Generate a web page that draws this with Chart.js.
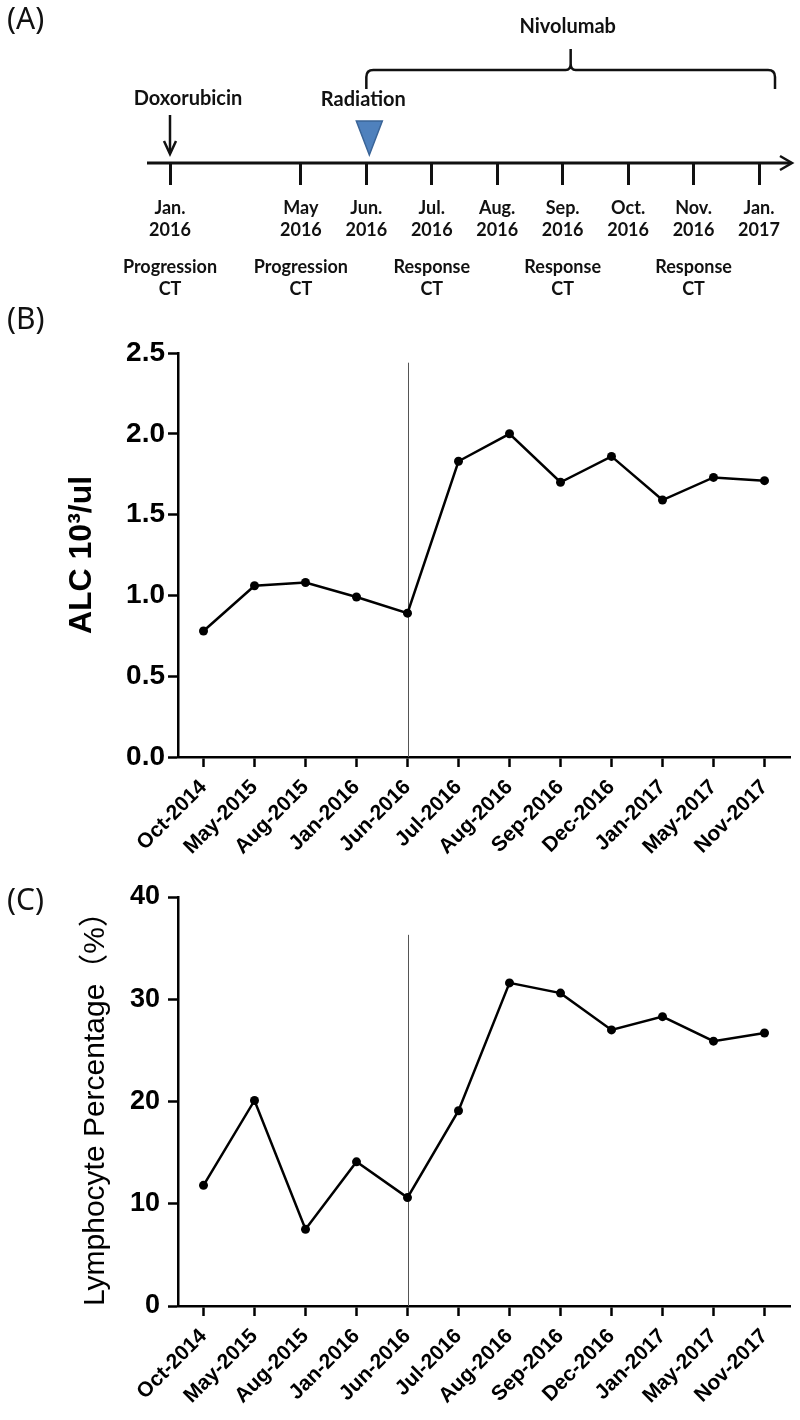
<!DOCTYPE html>
<html>
<head>
<meta charset="utf-8">
<script src="https://cdn.jsdelivr.net/npm/chart.js@4.4.1/dist/chart.umd.min.js"></script>
<style>
  html, body { margin: 0; padding: 0; background: #fff; }
  #page { position: relative; width: 800px; height: 1420px; overflow: hidden; }
  canvas { position: absolute; left: 0; }
  .tag { position: absolute; left: 7px; font: 30px "Noto Sans", sans-serif; color: #111; line-height: 1; }
</style>
</head>
<body>
<div id="page">
  <canvas id="timeline" width="800" height="310" style="top:0"></canvas>
  <canvas id="alc" width="800" height="560" style="top:300px"></canvas>
  <canvas id="lym" width="800" height="560" style="top:860px"></canvas>
  <div class="tag" style="top:3px">(A)</div>
  <div class="tag" style="top:303px">(B)</div>
  <div class="tag" style="top:884px">(C)</div>
</div>
<script>
// (A) 治療経過タイムライン
const timelineMonths = [['Jan.', '2016'], '', ['May', '2016'], ['Jun.', '2016'], ['Jul.', '2016'],
  ['Aug.', '2016'], ['Sep.', '2016'], ['Oct.', '2016'], ['Nov.', '2016'], ['Jan.', '2017']];
const ctScanSlots = [0, 2, 4, 6, 8];
const ctScanResults = ['Progression', 'Progression', 'Response', 'Response', 'Response'];
const doxorubicinSlot = 0;
const radiationSlot = 3;
const nivolumabSlots = [3, 9];

// (B)(C) 採血データ
const visitDates = ['Oct-2014', 'May-2015', 'Aug-2015', 'Jan-2016', 'Jun-2016', 'Jul-2016',
  'Aug-2016', 'Sep-2016', 'Dec-2016', 'Jan-2017', 'May-2017', 'Nov-2017'];
const alcValues = [0.78, 1.06, 1.08, 0.99, 0.89, 1.83, 2.00, 1.70, 1.86, 1.59, 1.73, 1.71];
const lymphPercent = [11.8, 20.1, 7.5, 14.1, 10.6, 19.1, 31.6, 30.6, 27.0, 28.3, 25.9, 26.7];
const alcTicks = [0, 0.5, 1.0, 1.5, 2.0, 2.5];
const lymphTicks = [0, 10, 20, 30, 40];
const radiationVisit = 'Jun-2016';

Chart.defaults.font.family = '"Liberation Sans", Arial, sans-serif';
Chart.defaults.color = '#000';
Chart.defaults.animation = false;

const LATO = 'Lato, "Open Sans", sans-serif';

// タイムライン上のイベント描画
const timelineMarks = {
  id: 'timelineMarks',
  afterDraw(chart) {
    const { ctx, chartArea, scales: { x } } = chart;
    const axisY = chartArea.bottom;
    const at = i => x.getPixelForValue(i);
    const ink = '#111';
    ctx.save();
    ctx.strokeStyle = ink;
    ctx.fillStyle = ink;

    // 時間軸と矢印
    const tip = chart.width - 8;
    ctx.lineWidth = 3;
    ctx.beginPath();
    ctx.moveTo(at(0) - 23, axisY);
    ctx.lineTo(tip - 1, axisY);
    ctx.stroke();
    ctx.lineWidth = 2.5;
    ctx.beginPath();
    ctx.moveTo(tip - 12, axisY - 7);
    ctx.lineTo(tip, axisY);
    ctx.lineTo(tip - 12, axisY + 7);
    ctx.stroke();

    ctx.textAlign = 'center';
    ctx.textBaseline = 'middle';
    ctx.font = 'bold 20px ' + LATO;

    // Doxorubicin
    const dx = at(doxorubicinSlot);
    ctx.fillText('Doxorubicin', dx + 18, axisY - 64);
    ctx.lineWidth = 2.5;
    ctx.beginPath();
    ctx.moveTo(dx, axisY - 48);
    ctx.lineTo(dx, axisY - 10);
    ctx.stroke();
    ctx.beginPath();
    ctx.moveTo(dx - 6, axisY - 22);
    ctx.lineTo(dx, axisY - 9);
    ctx.lineTo(dx + 6, axisY - 22);
    ctx.stroke();

    // Radiation
    const rx = at(radiationSlot);
    ctx.fillText('Radiation', rx - 3, axisY - 63);
    ctx.beginPath();
    ctx.moveTo(rx - 10, axisY - 42);
    ctx.lineTo(rx + 16, axisY - 42);
    ctx.lineTo(rx + 3, axisY - 8);
    ctx.closePath();
    ctx.fillStyle = '#4f81bd';
    ctx.fill();
    ctx.strokeStyle = '#3a6497';
    ctx.lineWidth = 1.5;
    ctx.stroke();

    // Nivolumab ブラケット
    ctx.strokeStyle = ink;
    ctx.fillStyle = ink;
    ctx.lineWidth = 2.5;
    const b0 = at(nivolumabSlots[0]);
    const b1 = at(nivolumabSlots[1]) + 16;
    const bm = (b0 + b1) / 2;
    const by = axisY - 93;
    const r = 7;
    ctx.beginPath();
    ctx.moveTo(b0, axisY - 74);
    ctx.lineTo(b0, by + r);
    ctx.quadraticCurveTo(b0, by, b0 + r, by);
    ctx.lineTo(bm - 5, by);
    ctx.quadraticCurveTo(bm, by, bm, by - 6);
    ctx.lineTo(bm, axisY - 114);
    ctx.moveTo(bm, by - 6);
    ctx.quadraticCurveTo(bm, by, bm + 5, by);
    ctx.lineTo(b1 - r, by);
    ctx.quadraticCurveTo(b1, by, b1, by + r);
    ctx.lineTo(b1, axisY - 74);
    ctx.stroke();
    ctx.fillText('Nivolumab', bm - 3, axisY - 136);

    // CT 評価
    ctx.font = 'bold 18px ' + LATO;
    ctScanSlots.forEach((s, i) => {
      ctx.fillText(ctScanResults[i], at(s), axisY + 104);
      ctx.fillText('CT', at(s), axisY + 126);
    });
    ctx.restore();
  }
};

new Chart(document.getElementById('timeline'), {
  type: 'line',
  data: { labels: timelineMonths, datasets: [] },
  options: {
    responsive: false,
    layout: { padding: { left: 170, right: 41, top: 0, bottom: 0 } },
    plugins: { legend: { display: false }, tooltip: { enabled: false } },
    scales: {
      x: {
        offset: false,
        border: { display: false },
        grid: {
          drawOnChartArea: false,
          tickLength: 22,
          tickWidth: 3,
          tickColor: c => (timelineMonths[c.index] === '' ? 'rgba(0,0,0,0)' : '#111')
        },
        ticks: {
          padding: 12,
          autoSkip: false,
          maxRotation: 0,
          color: '#111',
          font: { family: LATO, size: 18, weight: 'bold', lineHeight: 1.22 }
        },
        afterFit: s => { s.height = 147; }
      },
      y: { display: false }
    }
  },
  plugins: [timelineMarks]
});

// 放射線治療時点の縦線
const radiationLine = {
  id: 'radiationLine',
  beforeDatasetsDraw(chart, args, o) {
    const { ctx, chartArea, scales: { x, y } } = chart;
    const px = Math.round(x.getPixelForValue(visitDates.indexOf(o.visit))) + 0.5;
    ctx.save();
    ctx.strokeStyle = '#555';
    ctx.lineWidth = 1;
    ctx.beginPath();
    ctx.moveTo(px, y.getPixelForValue(o.from));
    ctx.lineTo(px, chartArea.bottom);
    ctx.stroke();
    ctx.restore();
  }
};

function makeTrendChart(id, values, tickValues, opts) {
  return new Chart(document.getElementById(id), {
    type: 'line',
    data: {
      labels: visitDates,
      datasets: [{
        data: values,
        borderColor: '#000',
        backgroundColor: '#000',
        borderWidth: 2.5,
        pointRadius: 4.5,
        pointBorderWidth: 0,
        pointBackgroundColor: '#000',
        tension: 0,
        clip: false
      }]
    },
    options: {
      responsive: false,
      layout: { padding: { top: opts.top, right: 10, left: 0, bottom: 0 } },
      plugins: {
        legend: { display: false },
        tooltip: { enabled: false },
        radiationLine: { visit: radiationVisit, from: opts.markerFrom }
      },
      scales: {
        x: {
          offset: true,
          border: { color: '#000', width: 2.5 },
          grid: { drawOnChartArea: false, tickLength: 10, tickWidth: 2.5, tickColor: '#000' },
          ticks: {
            autoSkip: false,
            minRotation: 45,
            maxRotation: 45,
            padding: 8,
            color: '#000',
            font: { size: 21, weight: 'bold' }
          },
          afterFit: s => { s.height = opts.xHeight; }
        },
        y: {
          min: tickValues[0],
          max: tickValues[tickValues.length - 1],
          afterBuildTicks: s => { s.ticks = tickValues.map(v => ({ value: v })); },
          border: { color: '#000', width: 2.5 },
          grid: { drawOnChartArea: false, tickLength: 10, tickWidth: 2.5, tickColor: '#000' },
          ticks: {
            padding: opts.tickPad,
            color: '#000',
            font: { size: opts.tickSize, weight: 'bold' },
            callback: opts.fmt
          },
          title: {
            display: true,
            text: opts.title,
            color: '#000',
            font: opts.titleFont,
            padding: { top: opts.titlePad, bottom: 0 }
          },
          afterFit: s => { s.width = 178; }
        }
      }
    },
    plugins: [radiationLine]
  });
}

makeTrendChart('alc', alcValues, alcTicks, {
  top: 53, xHeight: 103, markerFrom: 2.44,
  tickPad: 3, tickSize: 28, fmt: v => Number(v).toFixed(1),
  title: 'ALC 10³/ul', titleFont: { size: 32, weight: 'bold' }, titlePad: 63
});

makeTrendChart('lym', lymphPercent, lymphTicks, {
  top: 37, xHeight: 114, markerFrom: 36.3,
  tickPad: 8, tickSize: 27, fmt: v => v,
  title: 'Lymphocyte Percentage（%）',
  titleFont: { family: '"Liberation Sans", "Noto Sans CJK SC", sans-serif', size: 30, weight: 'normal' },
  titlePad: 78
});
</script>
</body>
</html>
